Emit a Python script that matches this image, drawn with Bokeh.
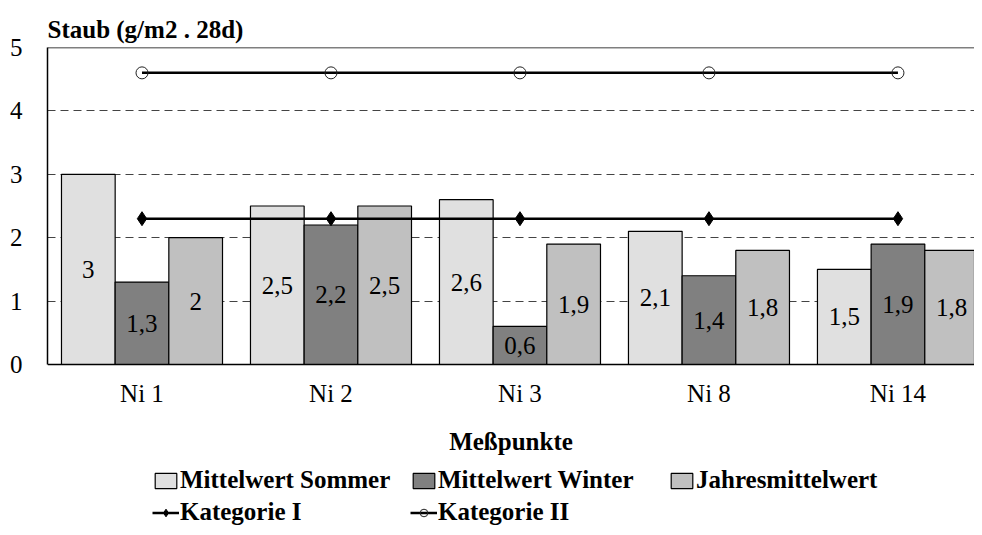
import numpy as np
from bokeh.plotting import figure
from bokeh.models import (ColumnDataSource, Range1d, FixedTicker, Span, Legend,
                          LegendItem)
from bokeh.core.properties import value
from bokeh.embed import file_html
from bokeh.resources import INLINE

# ---- data ----
categories = ["Ni 1", "Ni 2", "Ni 3", "Ni 8", "Ni 14"]
sommer = [3.0, 2.5, 2.6, 2.1, 1.5]
winter = [1.3, 2.2, 0.6, 1.4, 1.9]
jahres = [2.0, 2.5, 1.9, 1.8, 1.8]
kategorie_1 = [2.3, 2.3, 2.3, 2.3, 2.3]
kategorie_2 = [4.6, 4.6, 4.6, 4.6, 4.6]
y_ticks = [0, 1, 2, 3, 4, 5]
grid_ticks = [1, 2, 3, 4]

series_names = ["Mittelwert Sommer", "Mittelwert Winter", "Jahresmittelwert"]
series_colors = ["#e0e0e0", "#808080", "#c0c0c0"]

FONT = "Liberation Serif"
FS = "25px"

def fmt(v):
    s = ("%g" % v)
    return s.replace(".", ",")

idx = np.arange(len(categories))
bar_w = 0.284
offsets = [-bar_w, 0.0, bar_w]

# the frame extends below the value axis to host axis labels and legend
p = figure(width=974, height=535, output_backend="svg", toolbar_location=None,
           x_range=Range1d(-0.5, 4.405), y_range=Range1d(-2.697, 5),
           min_border_left=47, min_border_right=0, min_border_top=47,
           min_border_bottom=0)
p.outline_line_color = None
p.background_fill_color = "white"
p.border_fill_color = "white"

# title
p.title.text = "Staub (g/m2 . 28d)"
p.title.text_font = FONT
p.title.text_font_size = FS
p.title.text_font_style = "bold"
p.title.text_color = "black"
p.title.align = "left"
p.title.standoff = 10
p.title.offset = 0

# grid
p.xgrid.grid_line_color = None
p.ygrid.ticker = FixedTicker(ticks=grid_ticks)
p.ygrid.grid_line_color = "#444444"
p.ygrid.grid_line_dash = "8 5"
p.ygrid.grid_line_width = 1

top_line = Span(location=5, dimension="width", line_color="black", line_width=1.5)
p.add_layout(top_line)

bar_renderers = []
for vals, off, col in zip([sommer, winter, jahres], offsets, series_colors):
    src = ColumnDataSource(dict(x=idx + off, top=vals,
                                ymid=[v / 2 for v in vals],
                                lab=[fmt(v) for v in vals]))
    r = p.vbar(x="x", top="top", bottom=0, width=bar_w, source=src,
               fill_color=col, line_color="black", line_width=1.2)
    bar_renderers.append(r)
    p.text(x="x", y="ymid", text="lab", source=src, text_align="center",
           text_baseline="middle", text_font=value(FONT), text_font_size=FS,
           text_color="black")

l1 = p.line(idx, kategorie_1, line_color="black", line_width=2.5)
m1 = p.scatter(idx, kategorie_1, marker="diamond", size=14, fill_color="black",
               line_color="black")
l2 = p.line(idx, kategorie_2, line_color="black", line_width=2.5)
m2 = p.scatter(idx, kategorie_2, marker="circle", size=12, fill_color=None,
               line_color="#222222", line_width=1)

# axes
p.yaxis.ticker = FixedTicker(ticks=y_ticks)
p.yaxis.bounds = (0, 5)
p.yaxis.major_tick_line_color = None
p.yaxis.minor_tick_line_color = None
p.yaxis.axis_line_color = "black"
p.yaxis.axis_line_width = 1.5
p.yaxis.major_label_standoff = 19
p.yaxis.major_label_text_font = FONT
p.yaxis.major_label_text_font_size = FS
p.yaxis.major_label_text_color = "black"

p.xaxis.fixed_location = 0
p.xaxis.ticker = FixedTicker(ticks=list(idx))
p.xaxis.major_label_overrides = {int(i): c for i, c in zip(idx, categories)}
p.xaxis.major_tick_line_color = None
p.xaxis.minor_tick_line_color = None
p.xaxis.axis_line_color = "black"
p.xaxis.axis_line_width = 1.5
p.xaxis.major_label_standoff = 9
p.xaxis.major_label_text_font = FONT
p.xaxis.major_label_text_font_size = FS
p.xaxis.major_label_text_color = "black"
p.xaxis.axis_label = "Meßpunkte"
p.xaxis.axis_label_text_font = FONT
p.xaxis.axis_label_text_font_size = FS
p.xaxis.axis_label_text_font_style = "bold"
p.xaxis.axis_label_text_color = "black"
p.xaxis.axis_label_standoff = 18

items = [LegendItem(label=n, renderers=[r]) for n, r in zip(series_names, bar_renderers)]
items.append(LegendItem(label="Kategorie I", renderers=[l1, m1]))
items.append(LegendItem(label="Kategorie II", renderers=[l2, m2]))
legend = Legend(items=items, orientation="horizontal", ncols=3,
                location=(105, 9), margin=0, padding=0, spacing=4,
                glyph_width=27, glyph_height=19, label_standoff=1,
                label_width=226, label_text_font=FONT, label_text_font_size=FS,
                label_text_font_style="bold", label_text_color="black",
                border_line_color=None, background_fill_alpha=0)
p.add_layout(legend, "center")

open("out.html", "w").write(file_html(p, INLINE))
